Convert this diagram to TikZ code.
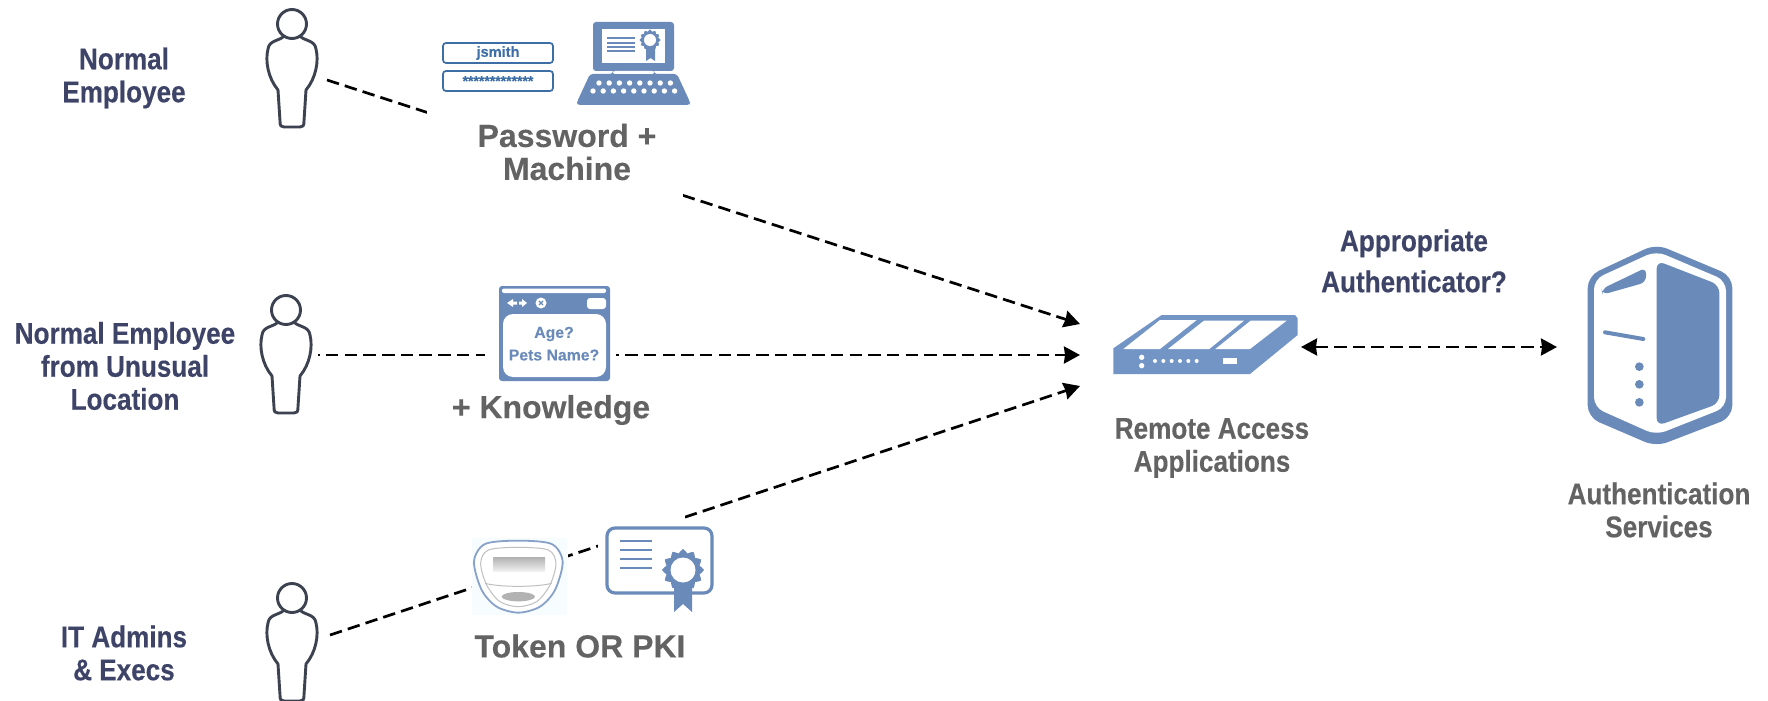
\documentclass[tikz,border=0pt]{standalone}
\usepackage{fontspec}
\setmainfont{Liberation Sans}[BoldFeatures={FakeBold=0.15}]
\newfontfamily\condfont{Liberation Sans}[FakeStretch=0.87,BoldFeatures={FakeBold=0.35}]
\usetikzlibrary{arrows.meta}
\definecolor{iconblue}{HTML}{6A8ABA}
\definecolor{routerblue}{HTML}{7395C6}
\definecolor{credblue}{HTML}{3D6FA6}
\definecolor{navytext}{HTML}{3E4468}
\definecolor{graytext}{HTML}{636363}
\definecolor{persondark}{HTML}{3C4250}
\newcommand{\rosette}[5]{% cx cy R d colour
  \fill[#5] plot[domain=0:360,samples=49,variable=\t] ({#1+(#3+#4*cos(12*\t))*cos(\t)},{#2+(#3+#4*cos(12*\t))*sin(\t)}) -- cycle;}
\tikzset{
  flowtip/.style={},
  flow/.style={line width=1.35pt,dash pattern=on 6.25pt off 3.1pt,-{Stealth[length=8pt,width=8.5pt,inset=0.5pt]},black},
  flowboth/.style={line width=1.35pt,dash pattern=on 6.25pt off 3.1pt,{Stealth[length=8pt,width=8.5pt,inset=0.5pt]}-{Stealth[length=8pt,width=8.5pt,inset=0.5pt]},black},
  mask/.style={fill=white,draw=none},
  who/.style={font=\condfont\bfseries\fontsize{15}{16.5}\selectfont,text=navytext,align=center,inner sep=0pt},
  factor/.style={font=\bfseries\fontsize{16}{16.5}\selectfont,text=graytext,align=center,inner sep=0pt},
  sys/.style={font=\condfont\bfseries\fontsize{15}{16.5}\selectfont,text=graytext,align=center,inner sep=0pt},
  ask/.style={font=\condfont\bfseries\fontsize{15}{20.5}\selectfont,text=navytext,align=center,inner sep=0pt},
  cred/.style={draw=credblue,line width=0.85pt,fill=white,rounded corners=1.5pt},
  person/.pic={
    \draw[persondark,line width=1.45pt,fill=white,line join=round]
      (-8,12) .. controls (-12,17) and (-23,16) .. (-24,25)
      .. controls (-27,37) and (-24,54) .. (-14,66)
      -- (-12,97) .. controls (-12,102) and (-11,103) .. (-8,103)
      -- (8,103) .. controls (11,103) and (12,102) .. (12,97)
      -- (14,66) .. controls (24,54) and (27,37) .. (24,25)
      .. controls (23,16) and (12,17) .. (8,12);
    \draw[persondark,line width=1.45pt,fill=white] (0,0) circle[radius=14.5];
  }
}
\begin{document}
\begin{tikzpicture}[x=0.5pt,y=-0.5pt]
\useasboundingbox (0,0) rectangle (1768,701);
% connector anchors
\coordinate (from1) at (327,80);
\coordinate (from2) at (318,355);
\coordinate (from3) at (330,635);
\coordinate (into1) at (1080,324);
\coordinate (into2) at (1080,355);
\coordinate (into3) at (1080,386);
\coordinate (routerport) at (1301,347);
\coordinate (serverport) at (1557,347);
% connectors
\draw[flow] (from1) -- (into1);
\draw[flow,dash phase=5.4pt] (from2) -- (into2);
\draw[flow] (from3) -- (into3);
\draw[flowboth] (routerport) -- (serverport);
% white picture grounds that interrupt the connectors
\fill[mask] (427,0) rectangle (683,205);
\fill[mask] (485,280) rectangle (616,390);
\fill[mask] (472,535) rectangle (568,620);
\fill[mask] (598,505) rectangle (685,620);
% people
\pic at (292,24) {person};
\pic at (286,310) {person};
\pic at (292,598) {person};
% credentials
\node[cred,minimum width=55pt,minimum height=10pt,inner sep=0pt,font=\bfseries\fontsize{7.3}{8}\selectfont,text=credblue] (user) at (498,53) {\raisebox{-0.6pt}{jsmith}};
\node[cred,minimum width=55pt,minimum height=10pt,inner sep=0pt,font=\bfseries\fontsize{7}{8}\selectfont,text=credblue] (pass) at (498,81) {\raisebox{-1.2pt}{*************}};
% laptop
\fill[iconblue,rounded corners=1.5pt] (593,22) rectangle (674,71);
\fill[white] (602,29) rectangle (665,63);
\foreach \yy in {38,43,47,51} \draw[iconblue,line width=0.6pt] (607,\yy) -- (635,\yy);
\fill[iconblue] (646,46) -- (646,61) -- (650.5,58) -- (655,61) -- (655,46) -- cycle;
\rosette{650}{40}{9.5}{1}{iconblue}
\fill[white] (650,40) circle[radius=6];
\fill[iconblue,rounded corners=1.5pt] (590,74) -- (613,74) -- (613,70) -- (654,70) -- (654,74) -- (677,74) -- (690,102) -- (690,105) -- (577,105) -- (577,102) -- cycle;
\fill[white,rounded corners=1pt] (613,71) rectangle (654,74);
\foreach \i in {0,...,7} \fill[white] ({599+\i*10.2},83) circle[radius=2.7];
\foreach \i in {0,...,8} \fill[white] ({593+\i*10.2},91) circle[radius=2.7];
% window
\fill[iconblue,rounded corners=1.5pt] (499,286) rectangle (610,381);
\fill[white,rounded corners=1pt] (502,288.5) rectangle (606,293);
\fill[white] (507,303) -- (513,299) -- (513,301.5) -- (517,301.5) -- (517,304.5) -- (513,304.5) -- (513,307) -- cycle;
\fill[white] (527,303) -- (522,299) -- (522,301.5) -- (519,301.5) -- (519,304.5) -- (522,304.5) -- (522,307) -- cycle;
\fill[white] (541,303) circle[radius=5.5];
\draw[iconblue,line width=0.6pt] (539,301) -- (543,305) (543,301) -- (539,305);
\fill[white,rounded corners=1.5pt] (587,298) rectangle (606,309);
\fill[white,rounded corners=5pt] (503,314) rectangle (606,377);
\node[inner sep=0pt,font=\bfseries\fontsize{7.9}{9}\selectfont,text=iconblue] (ageq) at (554,334) {Age?};
\node[inner sep=0pt,font=\bfseries\fontsize{7.9}{9}\selectfont,text=iconblue] (petq) at (554,355) {Pets Name?};
% token
\begin{scope}[shift={(240,500)},scale=1/3]
\fill[white!97!cyan] (697,115) rectangle (980,345);
\draw[iconblue!80!white,line width=0.9pt,fill=white] plot[smooth cycle] coordinates {(702,185) (735,132) (835,122) (935,132) (968,185) (945,270) (900,320) (835,338) (770,320) (725,270)};
\draw[black!25,line width=0.5pt] plot[smooth cycle] coordinates {(722,190) (745,150) (835,142) (925,150) (948,190) (930,255) (890,305) (835,320) (780,305) (740,255)};
\draw[black!25,line width=0.5pt] (735,250) .. controls (780,262) and (890,262) .. (935,250);
\shade[top color=black!30,bottom color=black!6] (760,172) rectangle (915,213);
\fill[white] (780,215) rectangle (885,253);
\fill[black!30] (835,290) ellipse[x radius=50,y radius=14];
\end{scope}
% certificate
\draw[iconblue,line width=1.6pt,fill=white,rounded corners=4pt] (607,528) rectangle (712,593);
\foreach \yy in {541,550,559,568} \draw[iconblue,line width=1pt] (620,\yy) -- (652,\yy);
\fill[iconblue] (674,580) -- (674,612) -- (683,604) -- (692,612) -- (692,580) -- cycle;
\rosette{683}{570}{19}{2}{iconblue}
\fill[white] (683,570) circle[radius=12.5];
% router
\begin{scope}[shift={(1080,300)},scale=1/3]
\fill[routerblue] (245,45) -- (645,45) -- (653,55) -- (653,105) -- (510,222) -- (100,222) -- (100,145) -- cycle;
\fill[white] (240,60) -- (350,60) -- (240,147) -- (130,147) -- cycle;
\fill[white] (372,62) -- (492,62) -- (388,147) -- (264,147) -- cycle;
\fill[white] (512,62) -- (620,62) -- (510,147) -- (406,147) -- cycle;
\fill[white] (185,172) circle[radius=8] (185,197) circle[radius=8];
\foreach \i in {0,...,5} \fill[white] ({225+\i*25},183) circle[radius=6];
\fill[white] (430,173) rectangle (472,193);
\end{scope}
% server
\begin{scope}[shift={(1560,220)},scale=1/3]
\fill[iconblue,rounded corners=6pt] (288,72) -- (517,168) -- (517,592) -- (288,680) -- (83,592) -- (83,168) -- cycle;
\fill[white,rounded corners=5pt] (288,93) -- (498,182) -- (498,562) -- (288,645) -- (102,562) -- (102,178) -- cycle;
\fill[iconblue,rounded corners=4pt] (290,122) -- (478,195) -- (478,550) -- (290,618) -- cycle;
\fill[iconblue,rounded corners=3pt] (125,207) -- (258,143) -- (258,187) -- (127,224) -- cycle;
\draw[iconblue,line width=2pt,line cap=round] (135,337) -- (250,357);
\fill[iconblue] (238,440) circle[radius=13] (238,493) circle[radius=13] (238,547) circle[radius=13];
\end{scope}
% labels
\node[who] (l1) at (124,78) {Normal\\Employee};
\node[who] (l2) at (125,366) {Normal Employee\\from Unusual\\Location};
\node[who] (l3) at (124,653) {IT Admins\\\& Execs};
\node[factor] (f1) at (567,152) {Password +\\Machine};
\node[factor] (f2) at (551,410) {+ Knowledge};
\node[factor] (f3) at (580,646) {Token OR PKI};
\node[ask] (q) at (1414,261) {Appropriate\\Authenticator?};
\node[sys] (ra) at (1212,448) {Remote Access\\Applications};
\node[sys] (as) at (1659,510) {Authentication\\Services};
\end{tikzpicture}
\end{document}
